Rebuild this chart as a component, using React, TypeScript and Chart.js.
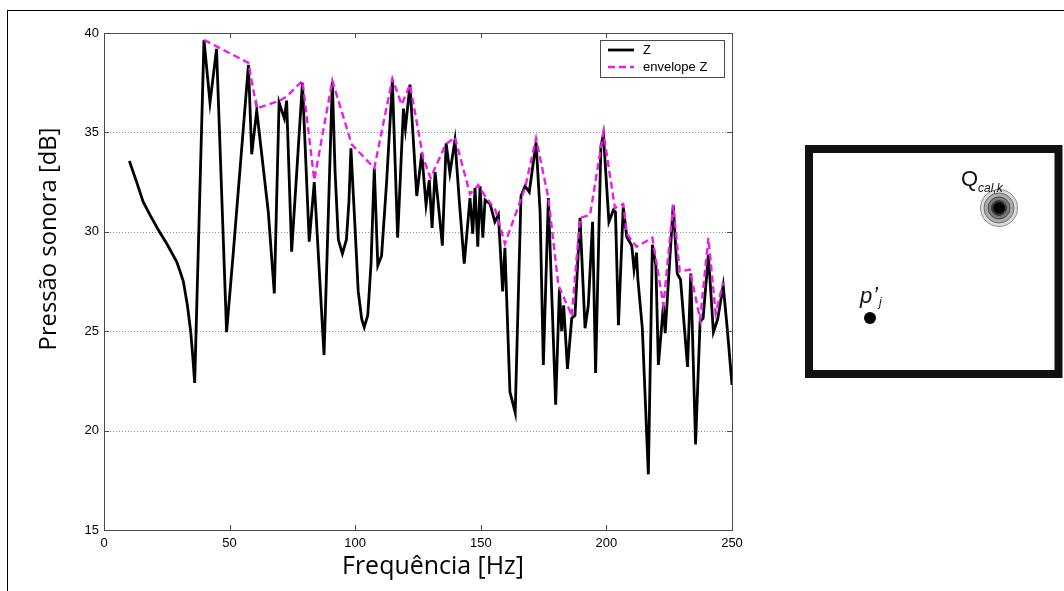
import React, { useEffect, useRef } from 'react';
import { Chart, registerables } from 'chart.js';

Chart.register(...registerables);

// ---- data ----
const zFreq = [
  10.1, 13.0, 15.6, 18.3, 21.6, 25.0, 28.9, 30.3, 31.6, 33.2, 34.5, 35.3, 36.1,
  39.8, 42.2, 44.8, 48.8, 51.5, 57.5, 58.8, 60.8,
  65.4, 67.8, 69.7, 71.8, 72.7, 74.7, 79.0, 81.7, 83.7, 87.6, 90.9, 92.0, 93.3, 94.9, 96.5, 97.5, 98.3,
  99.9, 101.2, 102.6, 103.6, 105.0, 106.3, 107.6, 109.0, 110.5, 112.5, 114.8, 116.9, 119.2, 120.0, 121.8,
  124.5, 126.5, 128.2, 129.5, 130.6, 131.8,
  133.1, 134.7, 136.2, 137.7, 139.7, 141.5, 143.4, 145.7, 146.8, 147.7, 148.8, 149.7, 150.8, 151.7,
  153.7, 155.6, 157.0, 158.7, 159.6, 161.6, 163.7, 166.0, 167.6, 169.3, 172.0, 173.6, 174.9, 176.9,
  179.8, 181.3, 182.2, 183.0, 184.5, 186.2, 187.5, 189.5, 191.5, 192.8, 194.5, 195.7, 197.8, 198.8,
  201.0, 202.8, 203.6, 204.8, 206.7, 208.1, 210.1, 211.0, 212.0, 212.5, 214.3, 216.7, 218.3, 219.7,
  220.7, 222.7, 223.4, 226.6, 228.2, 229.5, 232.3, 233.6, 235.5, 237.3, 238.5, 240.6, 242.6, 244.3,
  246.5, 248.2, 250.0,
];
const zLevel = [
  33.56, 32.5, 31.5, 30.85, 30.1, 29.4, 28.5, 28.0, 27.5, 26.3, 25.0, 23.8, 22.4,
  39.65, 36.5, 39.2, 24.95, 29.0, 38.4, 33.9, 36.1,
  31.0, 26.9, 36.5, 35.7, 36.6, 29.0, 37.5, 29.5, 32.5, 23.8, 37.55, 33.0, 29.6, 28.9, 29.6, 31.5, 34.2,
  30.3, 27.0, 25.6, 25.2, 25.8, 28.4, 33.2, 28.3, 28.8, 32.5, 37.6, 29.7, 36.2, 35.2, 37.4,
  31.8, 33.95, 31.35, 32.6, 30.2, 33.0,
  31.35, 29.3, 34.45, 32.95, 34.6, 31.45, 28.4, 31.7, 29.9, 32.2, 29.25, 32.3, 29.7, 31.6,
  31.4, 30.5, 30.85, 27.0, 29.2, 21.95, 20.9, 31.8, 32.3, 32.0, 34.5, 31.0, 23.3, 31.7,
  21.3, 27.15, 25.0, 26.3, 23.1, 25.65, 25.8, 30.7, 25.15, 26.3, 30.5, 22.9, 34.3, 34.9,
  30.5, 31.1, 31.0, 25.3, 31.25, 29.75, 29.3, 28.1, 28.95, 27.65, 25.15, 17.8, 29.35, 28.3,
  23.3, 26.3, 24.9, 31.35, 27.9, 27.6, 23.2, 27.9, 19.3, 25.5, 25.65, 28.85, 24.95, 25.6,
  27.3, 25.0, 22.3,
];
const envFreq = [
  39.8, 57.5, 60.8, 70.0, 72.7, 79.0, 83.7, 90.9, 98.6, 107.6, 114.8, 118.5, 121.8, 127.1, 130.0,
  136.0, 139.7, 145.7, 149.0, 151.7, 155.8, 159.6, 167.6, 172.0, 176.9, 180.9, 185.5, 186.2, 189.5,
  193.5, 198.8, 203.4, 206.7, 208.1, 212.0, 218.3, 222.7, 226.6, 229.2, 233.2, 237.3, 240.6, 243.5,
  246.5,
];
const envLevel = [
  39.65, 38.5, 36.2, 36.6, 36.8, 37.6, 32.6, 37.6, 34.4, 33.2, 37.7, 36.4, 37.4, 33.7, 32.7,
  34.4, 34.75, 31.9, 32.35, 31.8, 31.1, 29.4, 32.2, 34.7, 31.7, 27.3, 26.0, 25.75, 30.7,
  30.85, 35.0, 31.2, 31.4, 29.9, 29.25, 29.7, 26.3, 31.35, 28.0, 28.1, 25.6, 29.7, 25.9,
  27.45,
];
const xTicks = [0, 50, 100, 150, 200, 250];
const yTicks = [15, 20, 25, 30, 35, 40];
const seriesLabels = ['Z', 'envelope Z'];
const xTitle = 'Frequência [Hz]';
const yTitle = 'Pressão sonora [dB]';

const W = 1064;
const H = 591;
const TICK_FONT = '"Liberation Sans", Arial, sans-serif';
const TITLE_FONT = '"Open Sans", "DejaVu Sans", sans-serif';
const MAGENTA = '#ec1cec';

function fitSize(ctx: CanvasRenderingContext2D, text: string, family: string, target: number) {
  ctx.font = `20px ${family}`;
  const w = ctx.measureText(text).width;
  return (20 * target) / w;
}

const decor = {
  id: 'decor',
  beforeDatasetsDraw(chart: any) {
    const { ctx, chartArea: a, scales } = chart;
    const y = scales.y;
    ctx.save();
    ctx.strokeStyle = '#8c8c8c';
    ctx.lineWidth = 1;
    ctx.setLineDash([1, 2]);
    yTicks.slice(1, -1).forEach((v) => {
      const py = Math.round(y.getPixelForValue(v)) + 0.5;
      ctx.beginPath();
      ctx.moveTo(a.left, py);
      ctx.lineTo(a.right, py);
      ctx.stroke();
    });
    ctx.restore();
  },
  afterDatasetsDraw(chart: any) {
    const { ctx, chartArea: a, scales } = chart;
    const x = scales.x;
    const y = scales.y;
    ctx.save();
    // axes box
    ctx.strokeStyle = '#4a4a4a';
    ctx.lineWidth = 1;
    ctx.setLineDash([]);
    ctx.strokeRect(Math.round(a.left) + 0.5, Math.round(a.top) + 0.5, Math.round(a.right - a.left), Math.round(a.bottom - a.top));
    // inward ticks
    const tl = 5;
    ctx.beginPath();
    xTicks.slice(1, -1).forEach((v) => {
      const px = Math.round(x.getPixelForValue(v)) + 0.5;
      ctx.moveTo(px, a.top);
      ctx.lineTo(px, a.top + tl);
      ctx.moveTo(px, a.bottom);
      ctx.lineTo(px, a.bottom - tl);
    });
    yTicks.slice(1, -1).forEach((v) => {
      const py = Math.round(y.getPixelForValue(v)) + 0.5;
      ctx.moveTo(a.left, py);
      ctx.lineTo(a.left + tl, py);
      ctx.moveTo(a.right, py);
      ctx.lineTo(a.right - tl, py);
    });
    ctx.stroke();

    // legend
    const lx = 600.5, ly = 40.5, lw = 124, lh = 37;
    ctx.fillStyle = '#fff';
    ctx.fillRect(lx, ly, lw, lh);
    ctx.strokeStyle = '#4a4a4a';
    ctx.strokeRect(lx, ly, lw, lh);
    const ds = chart.data.datasets;
    [50, 67].forEach((yy, i) => {
      ctx.strokeStyle = ds[i].borderColor;
      ctx.lineWidth = ds[i].borderWidth;
      ctx.setLineDash(ds[i].borderDash || []);
      ctx.beginPath();
      ctx.moveTo(608, yy);
      ctx.lineTo(634, yy);
      ctx.stroke();
      ctx.setLineDash([]);
      ctx.fillStyle = '#000';
      ctx.font = `13px ${TICK_FONT}`;
      ctx.textBaseline = 'middle';
      ctx.textAlign = 'left';
      ctx.fillText(seriesLabels[i], 643, yy + 0.5);
    });

    // axis titles
    ctx.fillStyle = '#000';
    ctx.textAlign = 'center';
    ctx.textBaseline = 'middle';
    let fs = fitSize(ctx, xTitle, TITLE_FONT, 182);
    ctx.font = `${fs}px ${TITLE_FONT}`;
    ctx.fillText(xTitle, 433, 567);
    fs = fitSize(ctx, yTitle, TITLE_FONT, 223);
    ctx.save();
    ctx.translate(49, 239);
    ctx.rotate(-Math.PI / 2);
    ctx.font = `${fs}px ${TITLE_FONT}`;
    ctx.fillText(yTitle, 0, 0);
    ctx.restore();

    // outer frame
    ctx.strokeStyle = '#000';
    ctx.lineWidth = 1;
    ctx.strokeRect(7.5, 10.5, 1200, 700);

    // inset diagram
    ctx.lineWidth = 8;
    ctx.strokeStyle = '#111';
    ctx.strokeRect(809, 149, 249.5, 225);
    const cx = 999, cy = 208;
    const rings: [number, string, string][] = [
      [18.5, '#dcdcdc', '#8a8a8a'],
      [15, '#ababab', '#6a6a6a'],
      [11, '#7a7a7a', '#4a4a4a'],
      [7.5, '#4a4a4a', '#333'],
      [5.5, '#000', '#000'],
    ];
    ctx.lineWidth = 1;
    rings.forEach(([r, f, s]) => {
      ctx.beginPath();
      ctx.arc(cx, cy, r, 0, Math.PI * 2);
      ctx.fillStyle = f;
      ctx.fill();
      ctx.strokeStyle = s;
      ctx.stroke();
    });
    ctx.beginPath();
    ctx.arc(870, 318, 6, 0, Math.PI * 2);
    ctx.fillStyle = '#000';
    ctx.fill();
    ctx.textAlign = 'left';
    ctx.textBaseline = 'alphabetic';
    ctx.fillStyle = '#111';
    ctx.font = `22px ${TICK_FONT}`;
    ctx.fillText('Q', 961, 186);
    ctx.font = `italic 12px ${TICK_FONT}`;
    ctx.fillText('cal,k', 978, 192);
    ctx.font = `italic 22px ${TICK_FONT}`;
    ctx.fillText('p', 860, 303);
    ctx.fillText('\u2019', 873, 302);
    ctx.font = `italic 12px ${TICK_FONT}`;
    ctx.fillText('j', 879, 306);
    ctx.restore();
  },
};

export default function App() {
  const ref = useRef<HTMLCanvasElement | null>(null);
  useEffect(() => {
    if (!ref.current) return;
    const chart = new Chart(ref.current, {
      type: 'line',
      data: {
        datasets: [
          {
            label: seriesLabels[0],
            data: zFreq.map((f, i) => ({ x: f, y: zLevel[i] })),
            borderColor: '#000',
            borderWidth: 2.8,
            pointRadius: 0,
            tension: 0,
            fill: false,
            order: 2,
          },
          {
            label: seriesLabels[1],
            data: envFreq.map((f, i) => ({ x: f, y: envLevel[i] })),
            borderColor: MAGENTA,
            borderWidth: 2.4,
            borderDash: [7, 4],
            pointRadius: 0,
            tension: 0,
            fill: false,
            order: 1,
          },
        ],
      },
      options: {
        animation: false,
        responsive: false,
        events: [],
        layout: { padding: { left: 0, top: 33, right: 332, bottom: 0 } },
        plugins: { legend: { display: false }, tooltip: { enabled: false }, title: { display: false } },
        scales: {
          x: {
            type: 'linear',
            min: 0,
            max: 250,
            afterBuildTicks: (s: any) => {
              s.ticks = xTicks.map((v) => ({ value: v }));
            },
            ticks: { padding: 6, color: '#000', font: { family: TICK_FONT, size: 13 }, maxRotation: 0 },
            grid: { display: false, drawTicks: false },
            border: { display: false },
            afterFit: (s: any) => {
              s.height = 61;
            },
          },
          y: {
            type: 'linear',
            min: 15,
            max: 40,
            afterBuildTicks: (s: any) => {
              s.ticks = yTicks.map((v) => ({ value: v }));
            },
            ticks: { padding: 5, color: '#000', font: { family: TICK_FONT, size: 13 } },
            grid: { display: false, drawTicks: false },
            border: { display: false },
            afterFit: (s: any) => {
              s.width = 104;
            },
          },
        },
      },
      plugins: [decor],
    } as any);
    return () => chart.destroy();
  }, []);
  return (
    <div style={{ position: 'fixed', left: 0, top: 0, width: W, height: H, background: '#fff' }}>
      <canvas ref={ref} width={W} height={H} style={{ display: 'block', width: W, height: H }} />
    </div>
  );
}
